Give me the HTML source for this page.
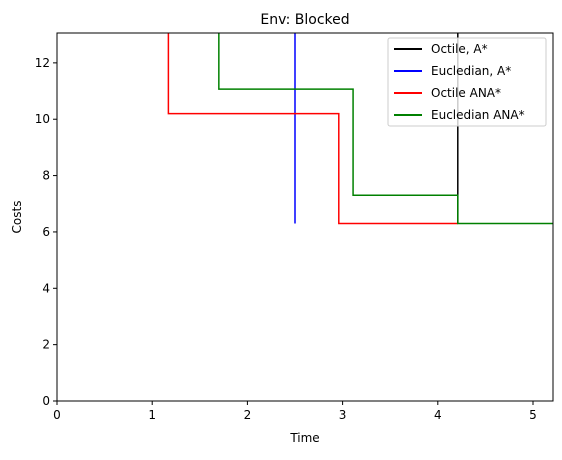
<!DOCTYPE html>
<html><head><meta charset="utf-8"><style>
body{margin:0;background:#fff;font-family:"Liberation Sans","DejaVu Sans",sans-serif}
svg text{font-family:"DejaVu Sans","Liberation Sans",sans-serif}
</style></head><body>
<svg id="chart" width="562" height="455" xmlns="http://www.w3.org/2000/svg">
<defs><clipPath id="clip"><rect x="57" y="33" width="496" height="368"/></clipPath></defs>
<rect x="0" y="0" width="562" height="455" fill="#fff"/>
<text x="305" y="24" font-size="14" text-anchor="middle">Env: Blocked</text>
<g id="series" clip-path="url(#clip)"></g>
<g id="axes"></g>
<rect x="57" y="33" width="496" height="368" fill="none" stroke="#000" stroke-width="1"/>
<text x="305" y="442" font-size="12" text-anchor="middle">Time</text>
<text transform="translate(21,217) rotate(-90)" font-size="12" text-anchor="middle">Costs</text>
<g>
<rect x="388" y="38" width="158" height="88" fill="#fff" fill-opacity="0.8" stroke="#ccc" rx="2"/>
<g id="legend-items"></g>
</g>
</svg>
<script>
const xTicks=[0,1,2,3,4,5];
const yTicks=[0,2,4,6,8,10,12];
const seriesNames=["Octile, A*","Eucledian, A*","Octile ANA*","Eucledian ANA*"];
const seriesColors=["#000000","#0000ff","#ff0000","#008000"];
const octileAX=[4.21,4.21];
const octileAY=[20,6.3];
const euclAX=[2.5,2.5];
const euclAY=[20,6.3];
const octileAnaX=[1.17,1.17,2.96,2.96,4.21];
const octileAnaY=[20,10.2,10.2,6.3,6.3];
const euclAnaX=[1.70,1.70,3.11,3.11,4.21,4.21,5.5];
const euclAnaY=[20,11.07,11.07,7.3,7.3,6.3,6.3];
const xMin=0,xMax=5.21,yMin=0,yMax=13.06;
const L=57,R=553,T=33,B=401;
const sx=v=>L+(v-xMin)/(xMax-xMin)*(R-L);
const sy=v=>B-(v-yMin)/(yMax-yMin)*(B-T);
const NS="http://www.w3.org/2000/svg";
function mk(t,a,p){const e=document.createElementNS(NS,t);for(const k in a)e.setAttribute(k,a[k]);p.appendChild(e);return e;}
const ax=document.getElementById('axes');
xTicks.forEach(v=>{const l=mk('line',{x1:sx(v),x2:sx(v),y1:B,y2:B+4,stroke:'#000'},ax);


const t=mk('text',{x:sx(v),y:B+18,'font-size':12,'text-anchor':'middle'},ax);t.textContent=v;

});
yTicks.forEach(v=>{const l=mk('line',{x1:L-4,x2:L,y1:sy(v),y2:sy(v),stroke:'#000'},ax);


const t=mk('text',{x:L-7,y:sy(v)+4,'font-size':12,'text-anchor':'end'},ax);t.textContent=v;

});
const sg=document.getElementById('series');
const data=[[octileAX,octileAY],[euclAX,euclAY],[octileAnaX,octileAnaY],[euclAnaX,euclAnaY]];
data.forEach((d,i)=>{const pts=d[0].map((x,j)=>sx(x)+','+sy(d[1][j])).join(' ');
const p=mk('polyline',{points:pts,fill:'none',stroke:seriesColors[i],'stroke-width':1.5},sg);

});
const lg=document.getElementById('legend-items');
seriesNames.forEach((n,i)=>{const y=49+i*22;
const l=mk('line',{x1:394,x2:422,y1:y,y2:y,stroke:seriesColors[i],'stroke-width':2},lg);


const t=mk('text',{x:431,y:y+4,'font-size':12},lg);t.textContent=n;

});
</script>
</body></html>
